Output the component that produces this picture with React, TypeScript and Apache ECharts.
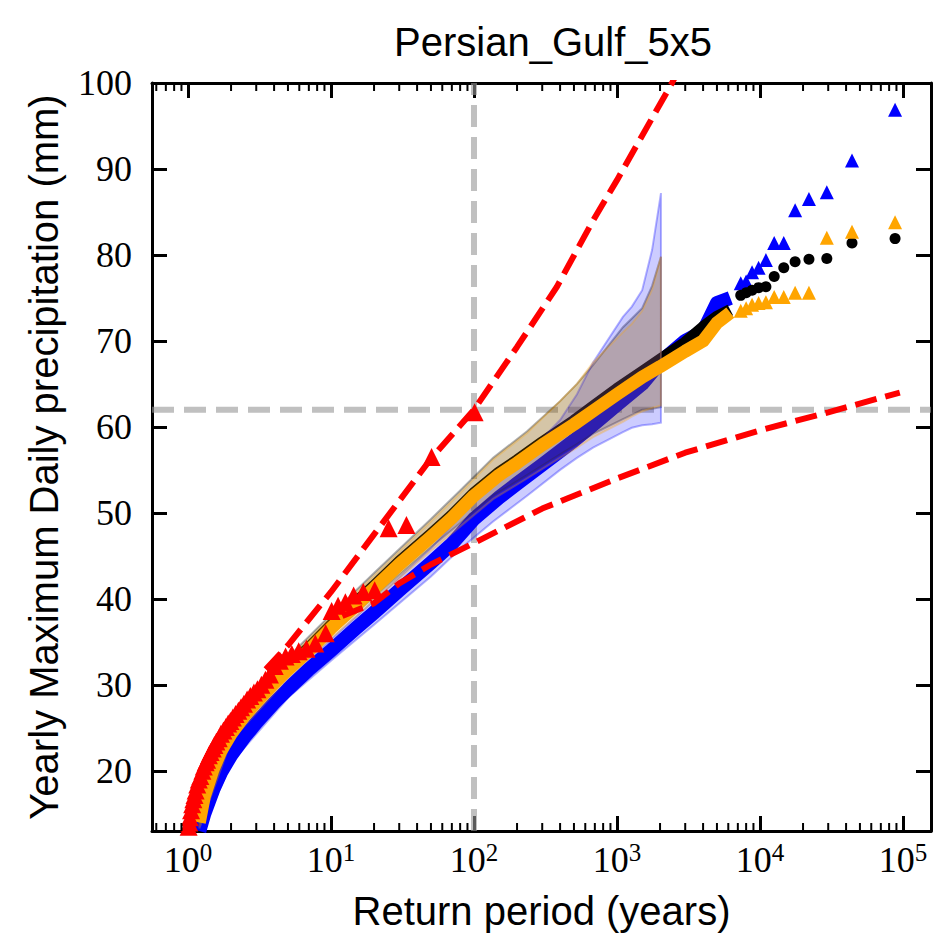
import React, { useEffect, useRef } from "react";
import * as echarts from "echarts";

const X_MIN = 0.56;
const X_MAX = 157000;
const Y_MIN = 13;
const Y_MAX = 100;

const TITLE = "Persian_Gulf_5x5";
const X_NAME = "Return period (years)";
const Y_NAME = "Yearly Maximum Daily precipitation (mm)";

const minorMultipliers = [2, 3, 4, 5, 6, 7, 8, 9];
const decades = [0.1, 1, 10, 100, 1000, 10000, 100000];

// dense parts of the three model samples (drawn as a ribbon of overlapping markers)
const denseT = [1.2, 1.3, 1.5, 1.7, 2, 2.5, 3, 4, 5, 7, 10, 15, 20, 30, 50, 70, 100, 150, 200, 300, 500, 700, 1000, 1500, 2000, 3000, 4000, 5000, 6200];
const orangeDense = [14.0, 17.0, 20.2, 22.3, 24.3, 26.5, 28.0, 30.2, 31.8, 34.0, 36.6, 39.3, 41.2, 44.0, 47.2, 49.4, 52.0, 54.4, 55.8, 57.9, 60.3, 62.0, 63.8, 65.8, 67.0, 68.8, 70.0, 72.1, 73.3];
const blackDense = [14.2, 17.2, 20.4, 22.5, 24.5, 26.8, 28.3, 30.5, 32.1, 34.3, 36.9, 39.6, 41.5, 44.3, 47.5, 49.7, 52.3, 54.7, 56.1, 58.2, 60.7, 62.5, 64.4, 66.4, 67.8, 69.8, 71.6, 72.8, 73.6];
const blueDense = [13.0, 15.0, 17.8, 19.8, 21.8, 24.0, 25.6, 27.9, 29.5, 31.8, 34.0, 36.6, 38.4, 41.0, 44.2, 46.4, 49.3, 51.8, 53.4, 55.6, 58.4, 60.4, 62.6, 65.0, 67.5, 70.0, 71.1, 74.4, 75.0];

// largest values (discrete markers)
const tailT = [88000, 44000, 29333, 22000, 17600, 14667, 12571, 11000, 9778, 8800, 8000, 7333];
const blackTail = [81.9, 81.4, 79.6, 79.5, 79.2, 78.5, 77.5, 76.3, 76.2, 75.9, 75.6, 75.3];
const blueTail = [96.9, 91.0, 87.3, 86.5, 85.2, 81.4, 81.4, 79.4, 78.5, 78.0, 76.9, 76.7];
const orangeTail = [83.8, 82.7, 82.0, 75.6, 75.6, 75.1, 75.1, 74.5, 74.4, 74.2, 73.8, 73.5];

// confidence bands
const bandT = [1.2, 2, 5, 10, 20, 50, 80, 136, 235, 400, 525, 680, 1100, 1270, 1500, 1760, 2030];
const blueBandLo = [12.4, 20.9, 28.5, 32.8, 37.0, 42.6, 45.8, 49.0, 52.0, 55.0, 56.4, 57.6, 59.4, 59.9, 60.2, 60.3, 60.5];
const blueBandHi = [13.8, 22.8, 30.6, 35.3, 39.8, 45.9, 49.6, 53.5, 56.8, 60.8, 63.8, 67.5, 72.8, 74.0, 75.9, 80.6, 87.2];
const orangeBandLo = [13.3, 23.5, 30.8, 35.4, 39.8, 45.6, 48.4, 51.6, 54.0, 56.4, 57.6, 58.8, 60.6, 61.2, 61.8, 62.2, 62.5];
const orangeBandHi = [14.8, 25.2, 32.9, 37.9, 42.7, 49.0, 52.3, 56.2, 59.3, 63.0, 65.0, 67.5, 71.0, 72.0, 73.5, 76.0, 79.8];
const blackBandLo = [13.6, 23.8, 31.2, 35.8, 40.2, 46.0, 48.8, 52.0, 54.4, 56.8, 58.0, 59.2, 60.9, 61.4, 62.0, 62.1, 62.3];
const blackBandHi = [15.0, 25.3, 33.2, 38.2, 43.0, 49.3, 52.6, 56.4, 59.5, 63.0, 65.0, 67.2, 71.6, 72.6, 73.8, 76.4, 79.8];

// observations (red triangles)
const obsT = [1.01, 1.02, 1.03, 1.05, 1.07, 1.09, 1.11, 1.13, 1.16, 1.19, 1.22, 1.26, 1.29, 1.33, 1.36, 1.4, 1.44, 1.49, 1.53, 1.58, 1.64, 1.7, 1.77, 1.84, 1.91, 1.98, 2.06, 2.15, 2.25, 2.35, 2.46, 2.59, 2.73, 2.89, 3.06, 3.26, 3.48, 3.74, 4.04, 4.39, 4.81, 5.32, 5.94, 6.73, 7.77, 9.18, 10.1, 11.2, 12.6, 14.4, 16.8, 20.2, 25.3, 33.7, 50.5, 101];
const obsV = [13.5, 14.0, 14.6, 15.4, 16.1, 16.7, 17.2, 17.7, 18.4, 19.0, 19.4, 20.0, 20.5, 21.0, 21.3, 21.8, 22.2, 22.6, 23.0, 23.4, 23.8, 24.3, 24.7, 25.1, 25.5, 25.8, 26.2, 26.6, 27.0, 27.4, 27.8, 28.3, 28.7, 29.1, 29.5, 30.0, 30.6, 31.2, 32.2, 32.8, 33.3, 33.6, 33.9, 34.2, 34.8, 36.0, 38.6, 39.2, 39.6, 40.4, 40.8, 41.0, 48.2, 48.6, 56.5, 61.7];

// fitted bounds (red dashed)
const upperT = [3.5, 5, 10, 20, 50, 100, 200, 380, 680, 1000, 2425, 3000];
const upperV = [31.8, 34.6, 40.8, 47.5, 56.3, 62.0, 69.3, 76.3, 84.0, 88.7, 100, 103];
const lowerT = [12, 20, 30, 50, 100, 300, 1000, 3000, 10000, 30000, 95000];
const lowerV = [38.0, 39.5, 41.8, 44.0, 46.5, 50.5, 54.0, 57.0, 59.6, 61.7, 64.0];

const REF_T = 100;
const REF_V = 62;

const zip = (xs: number[], ys: number[]) => xs.map((x, i) => [x, ys[i]]);

function bandSeries(name: string, lo: number[], hi: number[], fill: string, edge: string, z: number) {
  return {
    type: "custom",
    name,
    z,
    silent: true,
    clip: true,
    data: [[bandT[0], lo[0]]],
    renderItem: (_p: any, api: any) => {
      const up = bandT.map((t, i) => api.coord([t, hi[i]]));
      const dn = bandT.map((t, i) => api.coord([t, lo[i]]));
      return {
        type: "polygon",
        shape: { points: up.concat(dn.slice().reverse()) },
        style: { fill, stroke: edge, lineWidth: 2 },
      };
    },
  };
}

function ribbon(name: string, ys: number[], color: string, width: number, z: number) {
  return {
    type: "line",
    name,
    z,
    data: zip(denseT, ys),
    showSymbol: false,
    symbol: "none",
    silent: true,
    lineStyle: { color, width, cap: "butt", join: "round" },
  };
}

function tail(name: string, ys: number[], color: string, symbol: string, size: number, z: number) {
  return {
    type: "scatter",
    name,
    z,
    data: zip(tailT, ys),
    symbol,
    symbolSize: size,
    silent: true,
    itemStyle: { color, opacity: 1 },
  };
}

const dashedLine = (name: string, data: number[][], color: string, width: number, dash: number[], z: number) => ({
  type: "line",
  name,
  z,
  data,
  showSymbol: false,
  symbol: "none",
  silent: true,
  lineStyle: { color, width, type: dash, cap: "butt" },
});

const minorTicks: number[] = [];
decades.forEach((d) => minorMultipliers.forEach((m) => {
  const v = d * m;
  if (v > X_MIN && v < X_MAX) minorTicks.push(v);
}));

const isPow10 = (v: number) => Math.abs(Math.log10(v) - Math.round(Math.log10(v))) < 1e-6;

export default function App() {
  const ref = useRef<HTMLDivElement>(null);
  useEffect(() => {
    if (!ref.current) return;
    const chart = echarts.init(ref.current, null, { renderer: "svg" });
    const serif = "Liberation Serif";
    const sans = "Liberation Sans";
    const xAxisCommon = {
      type: "log",
      logBase: 10,
      min: X_MIN,
      max: X_MAX,
      splitNumber: 6,
      splitLine: { show: false },
      axisLine: { show: true, onZero: false, lineStyle: { color: "#000", width: 3 } },
      axisTick: { show: true, inside: true, length: 15, lineStyle: { color: "#000", width: 3 } },
      minorTick: { show: false },
    };
    const yAxisCommon = {
      type: "value",
      min: Y_MIN,
      max: Y_MAX,
      splitNumber: 9,
      splitLine: { show: false },
      axisLine: { show: true, onZero: false, lineStyle: { color: "#000", width: 3 } },
      axisTick: { show: true, inside: true, length: 15, lineStyle: { color: "#000", width: 3 } },
    };
    const option: any = {
      animation: false,
      backgroundColor: "#fff",
      title: {
        text: TITLE,
        left: 548,
        textAlign: "center",
        top: 17,
        textStyle: { fontFamily: sans, fontSize: 40, fontWeight: "normal", color: "#000" },
      },
      grid: { left: 152, right: 2, top: 83, bottom: 110, containLabel: false, outerBoundsMode: "none" },
      xAxis: [
        {
          ...xAxisCommon,
          position: "bottom",
          name: X_NAME,
          nameLocation: "middle",
          nameGap: 60,
          nameTextStyle: { fontFamily: sans, fontSize: 40, color: "#000" },
          axisLabel: {
            show: true,
            margin: 9,
            showMinLabel: true,
            showMaxLabel: true,
            hideOverlap: false,
            formatter: (v: number) => (isPow10(v) ? `{b|10}{s|${Math.round(Math.log10(v))}}` : ""),
            rich: {
              b: { fontFamily: serif, fontSize: 36, lineHeight: 40, color: "#000" },
              s: { fontFamily: serif, fontSize: 25, lineHeight: 26, verticalAlign: "top", color: "#000" },
            },
          },
        },
        { ...xAxisCommon, position: "top", axisLabel: { show: false } },
      ],
      yAxis: [
        {
          ...yAxisCommon,
          position: "left",
          name: Y_NAME,
          nameLocation: "middle",
          nameGap: 88,
          nameRotate: 90,
          nameTextStyle: { fontFamily: sans, fontSize: 40, color: "#000" },
          axisLabel: {
            show: true,
            margin: 20,
            fontFamily: serif,
            fontSize: 36,
            color: "#000",
            showMinLabel: true,
            formatter: (v: number) => (Math.abs(v % 10) < 1e-9 ? String(v) : ""),
          },
        },
        { ...yAxisCommon, position: "right", axisLabel: { show: false } },
      ],
      series: [
        dashedLine("ref-h", [[X_MIN, REF_V], [X_MAX, REF_V]], "rgba(150,150,150,0.6)", 6, [22, 10], 1),
        dashedLine("ref-v", [[REF_T, Y_MIN], [REF_T, Y_MAX]], "rgba(150,150,150,0.6)", 6, [22, 10], 1),
        ribbon("blue", blueDense, "#0000ff", 14, 2),
        tail("blue-tail", blueTail, "#0000ff", "triangle", 14, 2),
        ribbon("black", blackDense, "#000000", 12, 3),
        tail("black-tail", blackTail, "#000000", "circle", 11, 3),
        bandSeries("black-band", blackBandLo, blackBandHi, "rgba(0,0,0,0.2)", "rgba(0,0,0,0.3)", 4),
        bandSeries("blue-band", blueBandLo, blueBandHi, "rgba(0,0,255,0.2)", "rgba(0,0,255,0.3)", 4),
        ribbon("orange", orangeDense, "#ffa500", 13, 5),
        tail("orange-tail", orangeTail, "#ffa500", "triangle", 14, 5),
        bandSeries("orange-band", orangeBandLo, orangeBandHi, "rgba(255,165,0,0.18)", "rgba(255,165,0,0.3)", 6),
        dashedLine("upper", zip(upperT, upperV), "#ff0000", 6, [22, 9], 7),
        dashedLine("lower", zip(lowerT, lowerV), "#ff0000", 6, [22, 9], 7),
        {
          type: "scatter",
          name: "obs",
          z: 8,
          silent: true,
          data: zip(obsT, obsV),
          symbol: "triangle",
          symbolSize: 18,
          itemStyle: { color: "#ff0000", opacity: 1 },
        },
        {
          type: "custom",
          name: "minor-ticks",
          z: 20,
          silent: true,
          clip: false,
          data: minorTicks.map((v) => [v, Y_MIN]),
          renderItem: (params: any, api: any) => {
            const cs = params.coordSys;
            const p = api.coord([api.value(0), Y_MIN]);
            const x = p[0];
            const bottom = cs.y + cs.height;
            const st = { stroke: "#000", lineWidth: 2 };
            return {
              type: "group",
              children: [
                { type: "line", shape: { x1: x, y1: bottom, x2: x, y2: bottom - 8 }, style: st },
                { type: "line", shape: { x1: x, y1: cs.y, x2: x, y2: cs.y + 8 }, style: st },
              ],
            };
          },
        },
      ],
    };
    chart.setOption(option);
    return () => chart.dispose();
  }, []);
  return (
    <div
      ref={ref}
      style={{ position: "fixed", left: 0, top: 0, width: 933, height: 941, background: "#fff" }}
    />
  );
}
